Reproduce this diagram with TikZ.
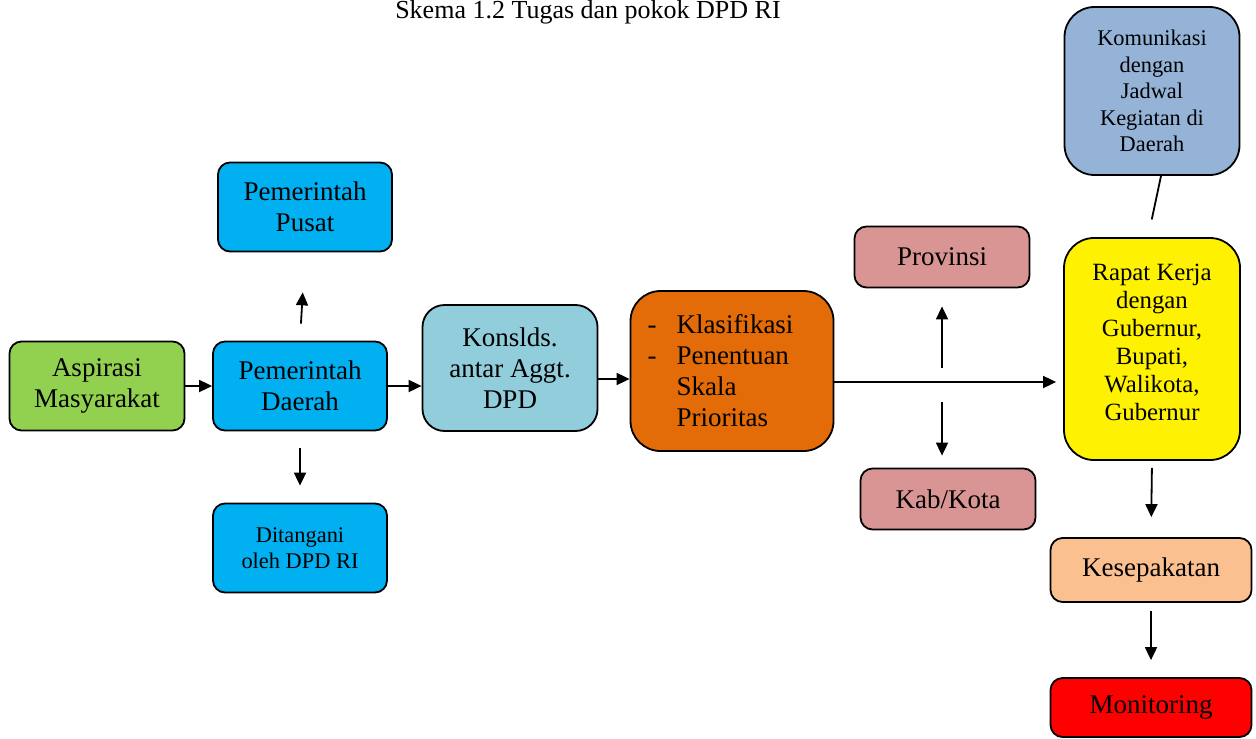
\documentclass[tikz,border=0pt]{standalone}
\usepackage{fontspec}
\setmainfont{Liberation Serif}
\usetikzlibrary{arrows.meta}
\tikzset{>={Triangle[length=6.5pt,width=6pt]}}
\definecolor{aspgreen}{HTML}{92D050}
\definecolor{pemblue}{HTML}{00B0F0}
\definecolor{konblue}{HTML}{92CDDC}
\definecolor{klasorange}{HTML}{E36C09}
\definecolor{daerahpink}{HTML}{D99594}
\definecolor{komblue}{HTML}{95B3D7}
\definecolor{kespeach}{HTML}{FAC090}
\tikzset{
  box/.style={draw, line width=0.9pt, rounded corners=6pt, align=center, inner sep=0pt,
    font=\fontsize{13.5}{15.5}\selectfont},
  bigbox/.style={box, rounded corners=15pt},
  smalltext/.style={font=\fontsize{11.2}{13.2}\selectfont}
}

\begin{document}
\begin{tikzpicture}[x=0.5pt, y=-0.5pt]
\useasboundingbox (0,0) rectangle (1256,738);
\node[anchor=base, font=\fontsize{13}{15}\selectfont] (title) at (588,19) {Skema 1.2 Tugas dan pokok DPD RI};

\node[box, fill=aspgreen, minimum width=87.5pt, minimum height=44.5pt] (asp) at (97,386) {Aspirasi\\Masyarakat};
\node[box, fill=pemblue, minimum width=87pt, minimum height=44.5pt] (pd) at (300,386) {Pemerintah\\Daerah};
\node[box, fill=pemblue, minimum width=87pt, minimum height=44.5pt] (pp) at (305,207) {Pemerintah\\Pusat};
\node[box, smalltext, fill=pemblue, minimum width=87pt, minimum height=44.5pt] (dit) at (300,548) {Ditangani\\oleh DPD RI};
\node[box, rounded corners=11pt, fill=konblue, minimum width=87.5pt, minimum height=63pt] (kon) at (510,368) {Konslds.\\antar Aggt.\\DPD};
\node[bigbox, fill=klasorange, minimum width=101.5pt, minimum height=80pt, text width=84.5pt, align=left, inner xsep=8.5pt] (klas) at (732,371)
  {\makebox[14.5pt][l]{-}Klasifikasi\\\makebox[14.5pt][l]{-}Penentuan\\\hspace*{14.5pt}Skala\\\hspace*{14.5pt}Prioritas};
\node[box, fill=daerahpink, minimum width=87.5pt, minimum height=30.5pt] (prov) at (942,257) {Provinsi};
\node[box, fill=daerahpink, minimum width=87.5pt, minimum height=30.5pt] (kab) at (948,499) {Kab/Kota};
\node[bigbox, smalltext, fill=komblue, minimum width=87.5pt, minimum height=84pt] (kom) at (1152,91)
  {Komunikasi\\dengan\\Jadwal\\Kegiatan di\\Daerah};
\node[bigbox, fill=yellow, minimum width=88pt, minimum height=111pt, font=\fontsize{12.4}{14}\selectfont] (rap) at (1152,349)
  {Rapat Kerja\\dengan\\Gubernur,\\Bupati,\\Walikota,\\Gubernur\\[-7pt]};
\node[box, fill=kespeach, minimum width=100.5pt, minimum height=32pt] (kes) at (1151,570) {Kesepakatan};
\node[box, fill=red, minimum width=100.5pt, minimum height=29.5pt] (mon) at (1151,707.5) {Monitoring};
\coordinate (split) at (942,382);

\path[->, line width=0.9pt]
(asp.east) edge (pd.west)
(pd.east) edge (pd.east -| kon.west)
([yshift=-5.5pt]kon.east) edge ([yshift=-5.5pt]kon.east -| klas.west)
(klas.east |- split) edge[shorten >=3.5pt] (split -| rap.west)
(pd.north) edge[shorten <=8.5pt, shorten >=20pt] (pp.south)
(pd.south) edge[shorten <=8.5pt, shorten >=8.5pt] (dit.north)
(split) edge[shorten <=7pt, shorten >=9pt] (prov.south)
(split) edge[shorten <=10pt, shorten >=6pt] (split |- kab.north)
(rap.south) edge[shorten <=3.5pt, shorten >=10pt] (kes.north)
(kes.south) edge[shorten <=4pt, shorten >=8.5pt] (mon.north)
;
\draw[line width=0.9pt, shorten >=9pt] ([xshift=4.5pt]kom.south) -- ([xshift=-2pt]rap.north);
\end{tikzpicture}
\end{document}
